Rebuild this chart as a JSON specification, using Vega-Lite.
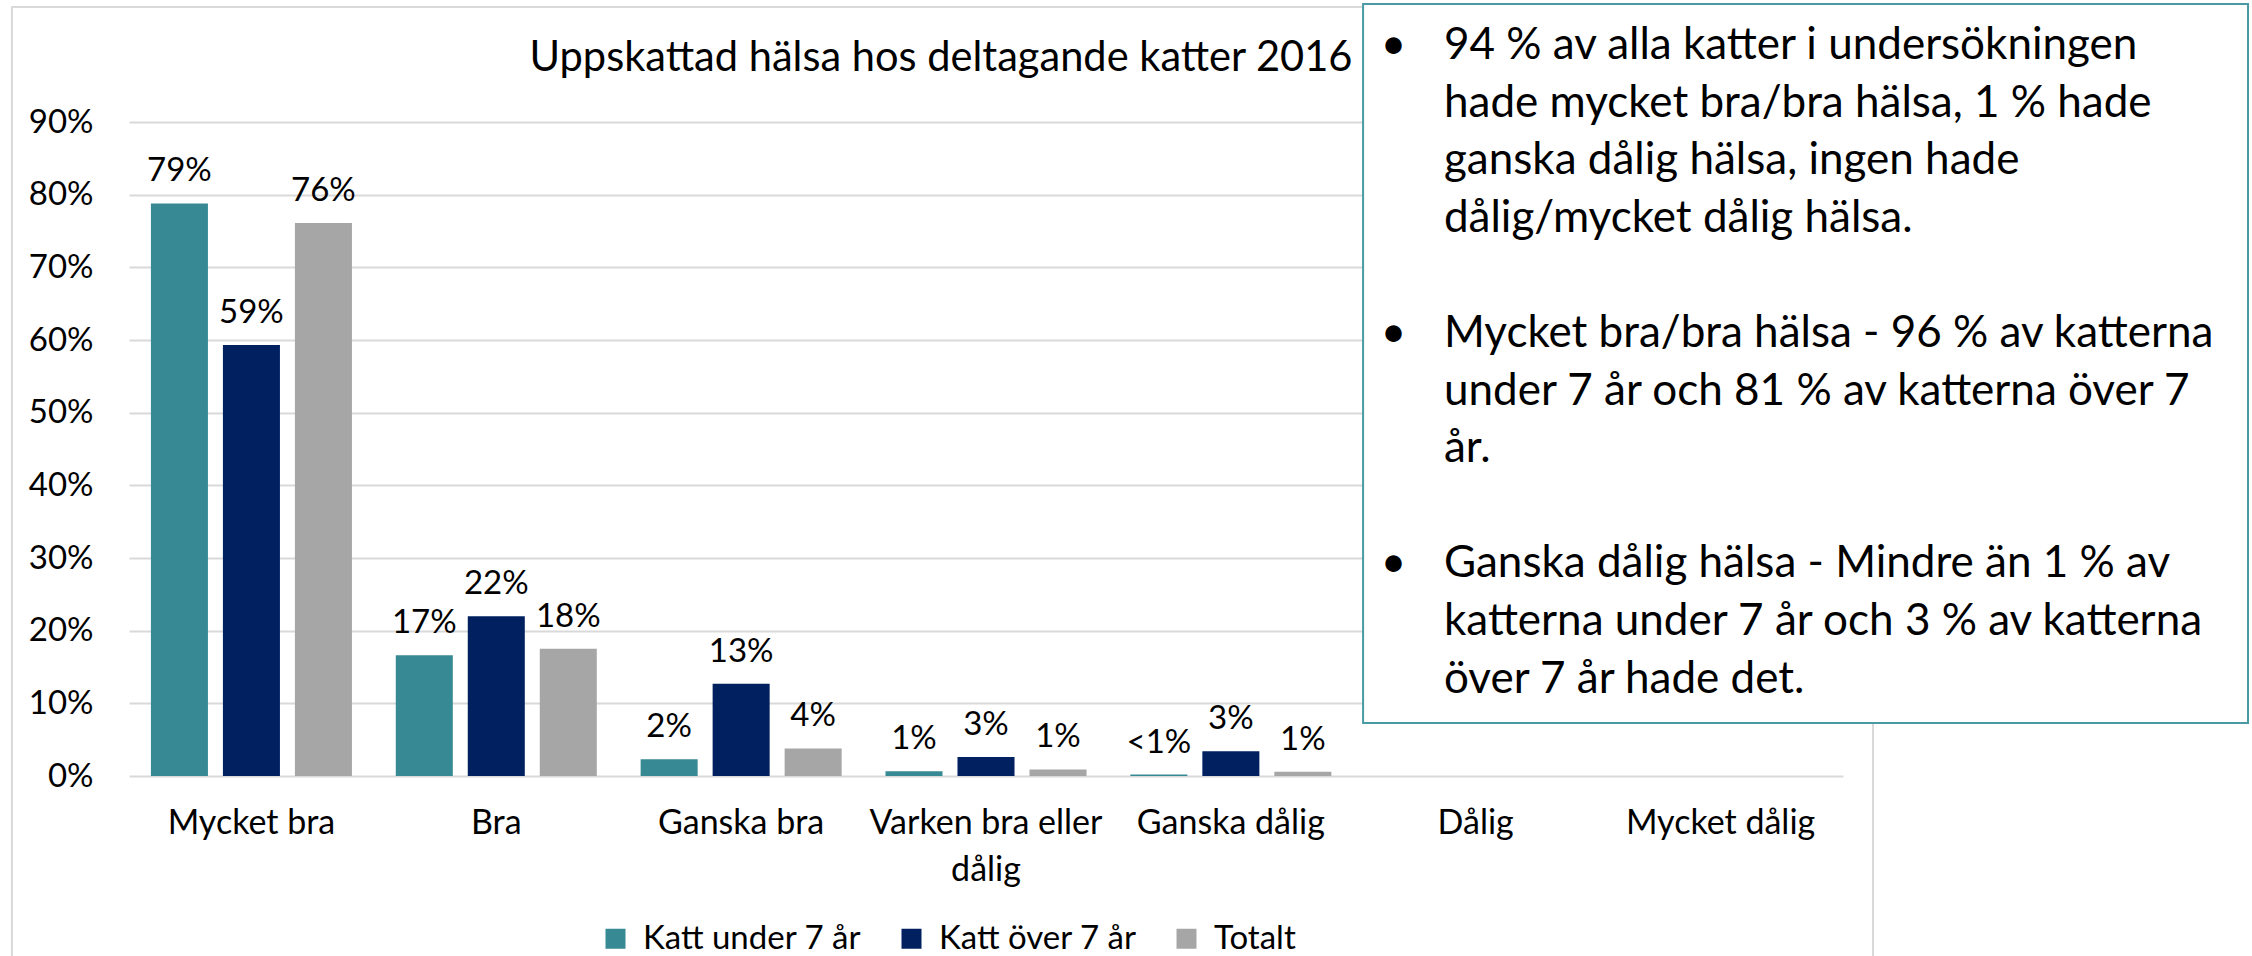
{
  "$schema": "https://vega.github.io/schema/vega-lite/v6.json",
  "padding": {"left": 10, "top": 3, "right": 0, "bottom": 0},
  "background": "white",
  "config": {"font": "Lato", "view": {"stroke": null}},
  "width": 1714,
  "height": 654,
  "title": {
    "text": "Uppskattad hälsa hos deltagande katter 2016",
    "fontSize": 41.6,
    "fontWeight": "normal",
    "font": "Lato",
    "color": "#000000",
    "anchor": "middle",
    "frame": "group",
    "dx": -45,
    "offset": -77
  },
  "layer": [
    {
      "data": {
        "values": [
          {"kategori": "Mycket bra", "grupp": "Katt under 7 år", "andel": 0.788, "etikett": "79%"},
          {"kategori": "Mycket bra", "grupp": "Katt över 7 år", "andel": 0.593, "etikett": "59%"},
          {"kategori": "Mycket bra", "grupp": "Totalt", "andel": 0.761, "etikett": "76%"},
          {"kategori": "Bra", "grupp": "Katt under 7 år", "andel": 0.166, "etikett": "17%"},
          {"kategori": "Bra", "grupp": "Katt över 7 år", "andel": 0.220, "etikett": "22%"},
          {"kategori": "Bra", "grupp": "Totalt", "andel": 0.175, "etikett": "18%"},
          {"kategori": "Ganska bra", "grupp": "Katt under 7 år", "andel": 0.023, "etikett": "2%"},
          {"kategori": "Ganska bra", "grupp": "Katt över 7 år", "andel": 0.127, "etikett": "13%"},
          {"kategori": "Ganska bra", "grupp": "Totalt", "andel": 0.038, "etikett": "4%"},
          {"kategori": "Varken bra eller dålig", "grupp": "Katt under 7 år", "andel": 0.0065, "etikett": "1%"},
          {"kategori": "Varken bra eller dålig", "grupp": "Katt över 7 år", "andel": 0.026, "etikett": "3%"},
          {"kategori": "Varken bra eller dålig", "grupp": "Totalt", "andel": 0.009, "etikett": "1%"},
          {"kategori": "Ganska dålig", "grupp": "Katt under 7 år", "andel": 0.002, "etikett": "<1%"},
          {"kategori": "Ganska dålig", "grupp": "Katt över 7 år", "andel": 0.034, "etikett": "3%"},
          {"kategori": "Ganska dålig", "grupp": "Totalt", "andel": 0.006, "etikett": "1%"},
          {"kategori": "Dålig", "grupp": "Katt under 7 år", "andel": 0, "etikett": ""},
          {"kategori": "Dålig", "grupp": "Katt över 7 år", "andel": 0, "etikett": ""},
          {"kategori": "Dålig", "grupp": "Totalt", "andel": 0, "etikett": ""},
          {"kategori": "Mycket dålig", "grupp": "Katt under 7 år", "andel": 0, "etikett": ""},
          {"kategori": "Mycket dålig", "grupp": "Katt över 7 år", "andel": 0, "etikett": ""},
          {"kategori": "Mycket dålig", "grupp": "Totalt", "andel": 0, "etikett": ""}
        ]
      },
      "encoding": {
        "x": {
          "field": "kategori",
          "type": "nominal",
          "sort": ["Mycket bra", "Bra", "Ganska bra", "Varken bra eller dålig", "Ganska dålig", "Dålig", "Mycket dålig"],
          "scale": {"paddingInner": 0.179, "paddingOuter": 0.0895},
          "axis": {
            "title": null,
            "domain": false,
            "ticks": false,
            "labelAngle": 0,
            "labelFontSize": 34,
            "labelColor": "#000000",
            "labelPadding": 30,
            "labelLineHeight": 47,
            "labelLimit": 400,
            "labelExpr": "datum.value == 'Varken bra eller dålig' ? ['Varken bra eller', 'dålig'] : datum.label"
          }
        },
        "xOffset": {
          "field": "grupp",
          "type": "nominal",
          "sort": ["Katt under 7 år", "Katt över 7 år", "Totalt"],
          "scale": {"paddingInner": 0.208, "paddingOuter": 0}
        },
        "y": {
          "field": "andel",
          "type": "quantitative",
          "scale": {"domain": [0, 0.9], "nice": false},
          "axis": {
            "title": null,
            "values": [0, 0.1, 0.2, 0.3, 0.4, 0.5, 0.6, 0.7, 0.8, 0.9],
            "format": ".0%",
            "grid": true,
            "gridColor": "#D9D9D9",
            "gridWidth": 2,
            "domain": false,
            "ticks": false,
            "labelFontSize": 33,
            "labelColor": "#000000",
            "labelPadding": 36
          }
        }
      },
      "layer": [
        {
          "mark": {"type": "bar"},
          "encoding": {
            "color": {
              "field": "grupp",
              "type": "nominal",
              "scale": {
                "domain": ["Katt under 7 år", "Katt över 7 år", "Totalt"],
                "range": ["#378A94", "#002060", "#A6A6A6"]
              },
              "legend": {
                "orient": "none",
                "legendX": 470,
                "legendY": 800,
                "direction": "horizontal",
                "title": null,
                "symbolType": "square",
                "symbolSize": 400,
                "symbolStrokeWidth": 0,
                "labelFontSize": 33,
                "labelColor": "#000000",
                "labelOffset": 11,
                "columnPadding": 33,
                "labelLimit": 400
              }
            }
          }
        },
        {
          "mark": {"type": "text", "dy": -32, "fontSize": 33, "color": "#000000", "baseline": "middle"},
          "encoding": {"text": {"field": "etikett"}}
        }
      ]
    },
    {
      "layer": [
        {
          "data": {"values": [{"ruta": "diagramram"}]},
          "mark": {"type": "rect", "fill": null, "fillOpacity": 0, "stroke": "#D9D9D9", "strokeWidth": 2},
          "encoding": {
            "x": {"datum": -0.0683, "type": "quantitative", "scale": {"domain": [0, 1]}, "axis": null},
            "x2": {"datum": 1.0175},
            "y": {"datum": -0.677, "type": "quantitative", "scale": {"domain": [1.319, 12.674], "reverse": true}, "axis": null},
            "y2": {"datum": 16.5}
          }
        },
        {
          "data": {"values": [{"ruta": "kommentar"}]},
          "mark": {"type": "rect", "fill": "#FFFFFF", "stroke": "#4A9AA3", "strokeWidth": 2},
          "encoding": {
            "x": {"datum": 0.72, "type": "quantitative", "scale": {"domain": [0, 1]}, "axis": null},
            "x2": {"datum": 1.2363},
            "y": {"datum": -0.729, "type": "quantitative", "scale": {"domain": [1.319, 12.674], "reverse": true}, "axis": null},
            "y2": {"datum": 11.753}
          }
        },
        {
          "data": {
            "values": [
              {"rad": 0, "text": "•"},
              {"rad": 5, "text": "•"},
              {"rad": 9, "text": "•"}
            ]
          },
          "mark": {"type": "text", "align": "center", "baseline": "middle", "fontSize": 44, "color": "#000000", "font": "Lato"},
          "encoding": {
            "x": {"datum": 0.7378, "type": "quantitative", "scale": {"domain": [0, 1]}, "axis": null},
            "y": {"field": "rad", "type": "quantitative", "scale": {"domain": [1.319, 12.674], "reverse": true}, "axis": null},
            "text": {"field": "text"}
          }
        },
        {
          "data": {
            "values": [
              {"rad": 0, "text": "94 % av alla katter i undersökningen"},
              {"rad": 1, "text": "hade mycket bra/bra hälsa, 1 % hade"},
              {"rad": 2, "text": "ganska dålig hälsa, ingen hade"},
              {"rad": 3, "text": "dålig/mycket dålig hälsa."},
              {"rad": 5, "text": "Mycket bra/bra hälsa - 96 % av katterna"},
              {"rad": 6, "text": "under 7 år och 81 % av katterna över 7"},
              {"rad": 7, "text": "år."},
              {"rad": 9, "text": "Ganska dålig hälsa - Mindre än 1 % av"},
              {"rad": 10, "text": "katterna under 7 år och 3 % av katterna"},
              {"rad": 11, "text": "över 7 år hade det."}
            ]
          },
          "mark": {"type": "text", "align": "left", "baseline": "middle", "fontSize": 44, "color": "#000000", "font": "Lato"},
          "encoding": {
            "x": {"datum": 0.7672, "type": "quantitative", "scale": {"domain": [0, 1]}, "axis": null},
            "y": {"field": "rad", "type": "quantitative", "scale": {"domain": [1.319, 12.674], "reverse": true}, "axis": null},
            "text": {"field": "text"}
          }
        }
      ]
    }
  ],
  "resolve": {"scale": {"x": "independent", "y": "independent"}, "axis": {"x": "independent", "y": "independent"}}
}
